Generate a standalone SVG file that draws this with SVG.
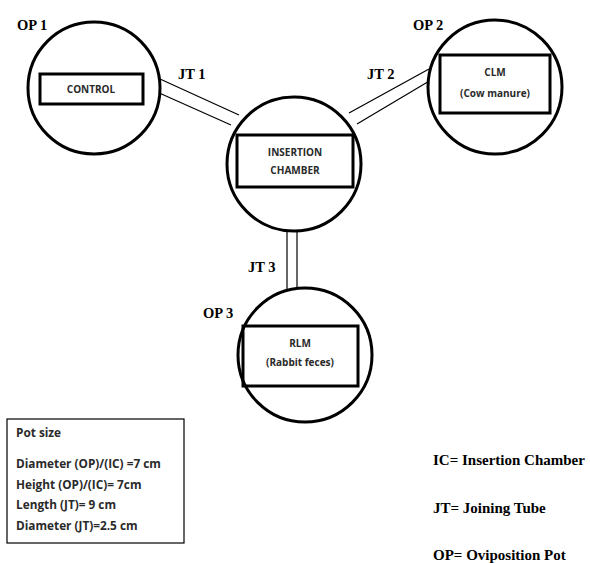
<svg xmlns="http://www.w3.org/2000/svg" width="590" height="563" viewBox="0 0 590 563">
<style>
.pot{fill:#fff;stroke:#000;stroke-width:3}
.box{fill:none;stroke:#000;stroke-width:3}
.tube{stroke:#000;stroke-width:1.2;fill:none}
.lbl{font-family:"Liberation Serif",serif;font-weight:bold;font-size:14.5px;fill:#000}
.in{font-family:"Open Sans","Liberation Sans",sans-serif;font-weight:bold;font-size:10px;fill:#2a2a2a;text-anchor:middle}
.note{font-family:"Open Sans","Liberation Sans",sans-serif;font-weight:bold;font-size:11.8px;fill:#2a2a2a}
.leg{font-family:"Liberation Serif",serif;font-weight:bold;font-size:15px;fill:#000}
</style>
<rect width="590" height="563" fill="#fff"/>
<g id="connectors">
<g id="jt1"><line class="tube" x1="160" y1="79" x2="239" y2="115"/><line class="tube" x1="157" y1="92" x2="231" y2="125"/></g>
<g id="jt2"><line class="tube" x1="429" y1="69" x2="349" y2="113"/><line class="tube" x1="431" y1="80" x2="357" y2="124"/></g>
<g id="jt3"><line class="tube" x1="287" y1="230" x2="287" y2="290"/><line class="tube" x1="297" y1="230" x2="297" y2="290"/></g>
</g>
<g id="op1">
<circle class="pot" cx="94" cy="88" r="66"/>
<rect class="box" x="40" y="74" width="103" height="30"/>
<text class="in" x="91" y="93">CONTROL</text>
</g>
<g id="op2">
<circle class="pot" cx="495" cy="87" r="67"/>
<rect class="box" x="440" y="55" width="110" height="58"/>
<text class="in" x="495" y="76">CLM</text>
<text class="in" x="495" y="97">(Cow manure)</text>
</g>
<g id="ic">
<circle class="pot" cx="294" cy="164" r="67"/>
<rect class="box" x="237" y="135" width="116" height="52"/>
<text class="in" x="295" y="156">INSERTION</text>
<text class="in" x="295" y="174">CHAMBER</text>
</g>
<g id="op3">
<circle class="pot" cx="305" cy="355" r="67"/>
<rect class="box" x="243" y="326" width="115" height="60"/>
<text class="in" x="300" y="347">RLM</text>
<text class="in" x="300" y="366">(Rabbit feces)</text>
</g>
<g id="labels">
<text class="lbl" x="17" y="30">OP 1</text>
<text class="lbl" x="178" y="79">JT 1</text>
<text class="lbl" x="413" y="30">OP 2</text>
<text class="lbl" x="367" y="79">JT 2</text>
<text class="lbl" x="248" y="272">JT 3</text>
<text class="lbl" x="203" y="318">OP 3</text>
</g>
<g id="potsize">
<rect x="7" y="419" width="177" height="124" fill="none" stroke="#000" stroke-width="1.2"/>
<text class="note" x="16" y="437">Pot size</text>
<text class="note" x="16" y="468">Diameter (OP)/(IC) =7 cm</text>
<text class="note" x="16" y="489">Height (OP)/(IC)= 7cm</text>
<text class="note" x="16" y="509">Length (JT)= 9 cm</text>
<text class="note" x="16" y="530">Diameter (JT)=2.5 cm</text>
</g>
<g id="legend">
<text class="leg" x="433" y="465">IC= Insertion Chamber</text>
<text class="leg" x="433" y="513">JT= Joining Tube</text>
<text class="leg" x="433" y="560">OP= Oviposition Pot</text>
</g>
</svg>
